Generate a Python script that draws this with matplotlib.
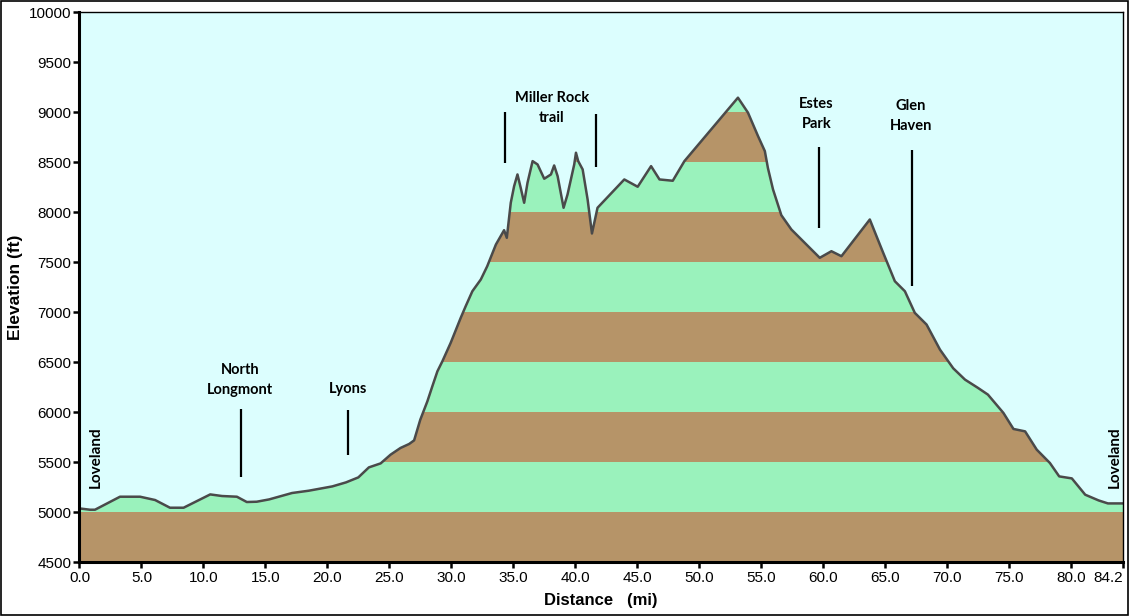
import numpy as np
import matplotlib.pyplot as plt
from matplotlib.patches import Polygon, Rectangle

# elevation profile (distance in miles, elevation in ft)
miles = [0.0, 0.85, 1.25, 3.27, 4.89, 6.1, 7.3, 8.4, 10.55, 11.5, 12.7, 13.5, 14.3, 15.3,
         17.15, 18.5, 20.4, 21.5, 22.5, 23.35, 24.3, 25.1, 25.9, 26.6, 27.0, 27.5, 28.07,
         28.47, 28.88, 29.28, 29.95, 30.76, 31.16, 31.7, 32.38, 32.9, 33.6, 34.26, 34.48,
         34.8, 35.07, 35.34, 35.6, 35.88, 36.15, 36.56, 36.96, 37.5, 38.04, 38.3, 38.58,
         39.06, 39.38, 39.65, 39.92, 40.06, 40.24, 40.6, 41.0, 41.35, 41.8, 43.96, 45.04,
         46.12, 46.8, 47.87, 48.81, 53.13, 53.94, 54.75, 55.3, 55.55, 55.96, 56.63, 57.44,
         59.73, 60.67, 61.48, 63.77, 64.31, 64.85, 65.79, 66.6, 67.4, 68.35, 69.43, 70.5,
         71.45, 72.5, 73.3, 74.55, 75.36, 76.3, 77.24, 78.3, 79.05, 80.07, 81.15, 82.23,
         82.98, 84.2]
elev = [5040, 5027, 5027, 5157, 5157, 5124, 5047, 5047, 5180, 5164, 5157, 5104, 5107, 5130,
        5194, 5217, 5260, 5300, 5350, 5450, 5490, 5577, 5644, 5684, 5720, 5927, 6110,
        6260, 6410, 6510, 6694, 6944, 7060, 7210, 7327, 7460, 7677, 7820, 7744,
        8094, 8260, 8377, 8244, 8094, 8294, 8510, 8477, 8334, 8377, 8467, 8360,
        8044, 8177, 8327, 8477, 8594, 8510, 8427, 8127, 7787, 8044, 8327, 8254,
        8460, 8327, 8314, 8510, 9144, 8994, 8760, 8610, 8440, 8227, 7970, 7827,
        7544, 7610, 7560, 7927, 7760, 7594, 7310, 7210, 6994, 6877, 6627, 6440,
        6327, 6244, 6177, 5994, 5834, 5810, 5627, 5494, 5360, 5340, 5177, 5120,
        5090, 5090]

# places along the route
place_names = ['North\nLongmont', 'Lyons', 'Miller Rock\ntrail', 'Estes\nPark', 'Glen\nHaven']
place_x = [12.97, 21.7, 38.1, 59.46, 67.1]
place_y = [6322, 6237, 9042, 8977, 8962]
marker_x = [13.0, 21.66, 34.3, 41.7, 59.66, 67.14]
marker_lo = [5357, 5577, 8487, 8447, 7837, 7267]
marker_hi = [6037, 6027, 8997, 8977, 8647, 8617]

xticks = [0, 5, 10, 15, 20, 25, 30, 35, 40, 45, 50, 55, 60, 65, 70, 75, 80, 84.2]
yticks = list(range(4500, 10001, 500))

brown = '#B69468'
green = '#9AF2BC'
sky = '#DCFEFE'

fig = plt.figure(figsize=(11.29, 6.16), dpi=100)
ax = fig.add_axes([0.0704, 0.0869, 0.9243, 0.8936])
ax.set_facecolor(sky)
ax.set_xlim(0, 84.2)
ax.set_ylim(4500, 10000)

# area under the profile, used to clip the colour bands
verts = list(zip(miles, elev)) + [(miles[-1], 4500), (miles[0], 4500)]
area = Polygon(verts, closed=True, facecolor='none', edgecolor='none')
ax.add_patch(area)
for i, lo in enumerate(range(4500, 10000, 500)):
    band = ax.axhspan(lo, lo + 500, color=brown if i % 2 == 0 else green, lw=0)
    band.set_clip_path(area)

ax.plot(miles, elev, color='#4a4a4a', lw=1.8)

# labels and marker lines
for name, x, y in zip(place_names, place_x, place_y):
    ax.text(x, y, name, ha='center', va='center', fontsize=10.5, fontweight='bold',
            family='Lato', linespacing=1.55)
ax.vlines(marker_x, marker_lo, marker_hi, color='black', lw=1.6)
ax.text(1.3, 5547, 'Loveland', rotation=90, ha='center', va='center', fontsize=11,
        fontweight='bold', family='Lato')
ax.text(83.55, 5547, 'Loveland', rotation=90, ha='center', va='center', fontsize=11,
        fontweight='bold', family='Lato')

ax.set_xticks(xticks)
ax.set_xticklabels(['%.1f' % t for t in xticks], family='Liberation Sans', fontsize=11)
ax.get_xticklabels()[-1].set_horizontalalignment('right')
ax.set_yticks(yticks)
ax.set_yticklabels([str(t) for t in yticks], family='Liberation Sans', fontsize=11)
ax.tick_params(direction='out', length=4, width=1.8, pad=2)

for s in ['left', 'bottom']:
    ax.spines[s].set_linewidth(2.2)
for s in ['top', 'right']:
    ax.spines[s].set_linewidth(1.0)

ax.set_xlabel('Distance   (mi)', family='Liberation Sans', fontsize=12,
              fontweight='bold', labelpad=6)
ax.set_ylabel('Elevation (ft)', family='Liberation Sans', fontsize=12.5,
              fontweight='bold', labelpad=4)

# outer frame
fig.patches.append(Rectangle((0.001, 0.002), 0.998, 0.996, transform=fig.transFigure,
                             fill=False, edgecolor='black', lw=1.2))

fig.savefig('out.png', dpi=100)
